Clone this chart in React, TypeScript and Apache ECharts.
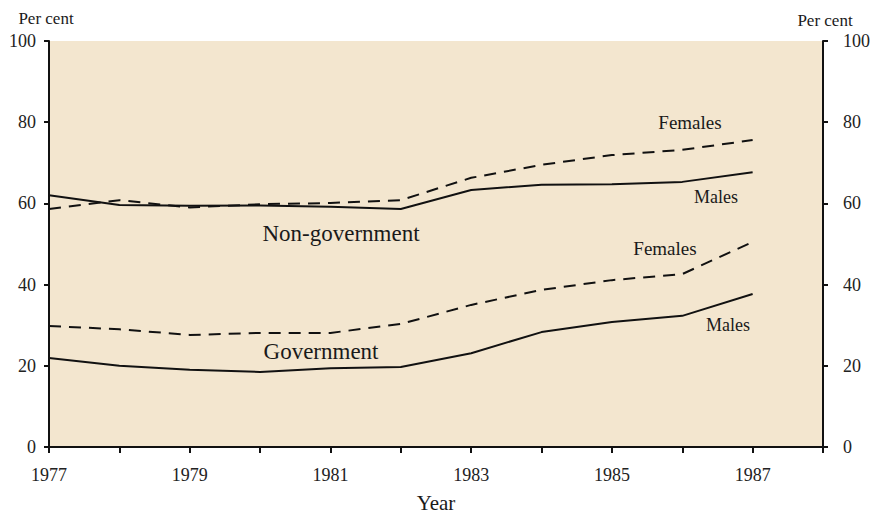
import React, { useEffect, useRef } from "react";
import * as echarts from "echarts";

const years = [1977, 1978, 1979, 1980, 1981, 1982, 1983, 1984, 1985, 1986, 1987];
const nonGovMales = [62, 59.6, 59.4, 59.5, 59.2, 58.6, 63.3, 64.6, 64.7, 65.3, 67.7];
const nonGovFemales = [58.6, 60.8, 59, 59.8, 60.1, 60.8, 66.3, 69.5, 71.9, 73.2, 75.6];
const govMales = [21.9, 20, 19, 18.5, 19.4, 19.7, 23.1, 28.3, 30.8, 32.3, 37.7];
const govFemales = [29.8, 29, 27.6, 28.1, 28.1, 30.3, 35, 38.7, 41.1, 42.6, 50.5];
const yTicks = [0, 20, 40, 60, 80, 100];

const FONT = "'Liberation Serif', 'DejaVu Serif', serif";

export default function App() {
  const ref = useRef<HTMLDivElement>(null);
  useEffect(() => {
    document.body.style.margin = "0";
    const chart = echarts.init(ref.current!, undefined, { renderer: "svg" });
    const pair = (vals: number[]) => years.map((y, i) => [y, vals[i]]);
    const lineSeries = (name: string, vals: number[], dashed: boolean) => ({
      name,
      type: "line",
      data: pair(vals),
      symbol: "none",
      lineStyle: { color: "#111", width: 2, type: dashed ? [12, 8] : "solid" },
      z: 3,
    });
    const yAxisBase = (pos: "left" | "right") => ({
      type: "value",
      position: pos,
      min: 0,
      max: 100,
      interval: 20,
      axisLine: { show: true, lineStyle: { color: "#111", width: 2 } },
      axisTick: { show: true, length: 5, lineStyle: { color: "#111", width: 2 } },
      axisLabel: {
        color: "#222",
        fontFamily: FONT,
        fontSize: 18,
        margin: pos === "left" ? 13 : 20,
        formatter: (v: number) => (yTicks.includes(v) ? String(v) : ""),
      },
      splitLine: { show: false },
    });
    const txt = (text: string, x: number, y: number, size: number) => ({
      type: "text",
      x,
      y,
      style: { text, fontFamily: FONT, fontSize: size, fill: "#1a1a1a", textAlign: "center", textVerticalAlign: "middle" },
      z: 10,
    });
    chart.setOption({
      animation: false,
      backgroundColor: "#ffffff",
      grid: {
        left: 49,
        right: 53,
        top: 41,
        height: 406,
        show: true,
        backgroundColor: "#f3e6cf",
        borderWidth: 0,
        outerBoundsMode: "none",
        containLabel: false,
      },
      xAxis: {
        type: "value",
        min: 1977,
        max: 1988,
        interval: 1,
        axisLine: { show: true, onZero: false, lineStyle: { color: "#111", width: 2 } },
        axisTick: { show: true, length: 6, lineStyle: { color: "#111", width: 2 } },
        axisLabel: {
          color: "#222",
          fontFamily: FONT,
          fontSize: 18,
          margin: 19,
          formatter: (v: number) => (v % 2 === 1 && v < 1988 ? String(v) : ""),
        },
        splitLine: { show: false },
        name: "Year",
        nameLocation: "middle",
        nameGap: 45,
        nameTextStyle: { color: "#1a1a1a", fontFamily: FONT, fontSize: 21 },
      },
      yAxis: [yAxisBase("left"), yAxisBase("right")],
      series: [
        lineSeries("Non-government Males", nonGovMales, false),
        lineSeries("Non-government Females", nonGovFemales, true),
        lineSeries("Government Males", govMales, false),
        lineSeries("Government Females", govFemales, true),
      ],
      graphic: [
        txt("Per cent", 46, 18, 17),
        txt("Per cent", 825, 20, 17),
        txt("Females", 690, 122, 19),
        txt("Males", 716, 197, 18),
        txt("Non-government", 341, 233, 23),
        txt("Females", 665, 248, 19),
        txt("Government", 321, 351, 23),
        txt("Males", 728, 325, 18),
      ],
    });
    return () => chart.dispose();
  }, []);
  return <div ref={ref} style={{ width: 876, height: 513 }} />;
}
